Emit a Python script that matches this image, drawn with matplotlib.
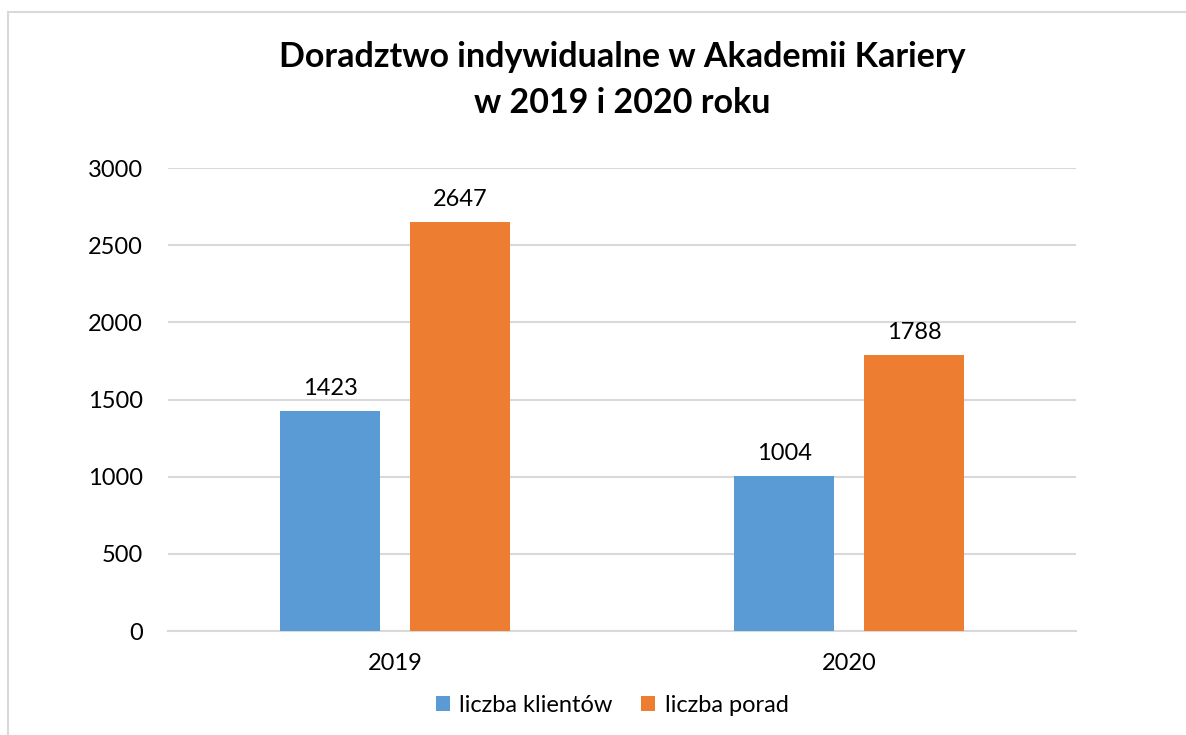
import matplotlib.pyplot as plt
import matplotlib.patches as mpatches
import numpy as np

plt.rcParams['font.family'] = ['Lato', 'DejaVu Sans']

# data
years = ["2019", "2020"]
clients = [1423, 1004]
advice = [2647, 1788]
series_names = ["liczba klientów", "liczba porad"]

BLUE = "#5B9BD5"
ORANGE = "#ED7D31"
GRID = "#D9D9D9"

fig = plt.figure(figsize=(11.86, 7.35), dpi=100)
ax = fig.add_axes([168 / 1186, 1 - 631 / 735, (1076 - 168) / 1186, (631 - 168) / 735])

x = np.arange(len(years))
w = 0.222
off = 0.143
b1 = ax.bar(x - off, clients, w, color=BLUE, label=series_names[0], zorder=3)
b2 = ax.bar(x + off, advice, w, color=ORANGE, label=series_names[1], zorder=3)

for bars in (b1, b2):
    for rect in bars:
        h = rect.get_height()
        ax.annotate(f"{int(h)}", (rect.get_x() + rect.get_width() / 2, h),
                    xytext=(0, 9), textcoords="offset points",
                    ha="center", va="bottom", fontsize=17)

ax.set_xlim(-0.5, 1.5)
ax.set_ylim(0, 3000)
ax.set_yticks(range(0, 3001, 500))
ax.set_xticks(x)
ax.set_xticklabels(years)
ax.tick_params(axis="both", length=0, labelsize=17)
ax.tick_params(axis="x", pad=16)
ax.tick_params(axis="y", pad=18)
ax.yaxis.grid(True, color=GRID, linewidth=1.5, zorder=0)
for s in ("top", "right", "left"):
    ax.spines[s].set_visible(False)
ax.spines["bottom"].set_color(GRID)
ax.spines["bottom"].set_linewidth(1.5)

fig.text(0.525, 1 - 57 / 735, "Doradztwo indywidualne w Akademii Kariery",
         ha="center", va="center", fontsize=24.5, fontweight="bold")
fig.text(0.525, 1 - 103 / 735, "w 2019 i 2020 roku",
         ha="center", va="center", fontsize=24.5, fontweight="bold")

fig.legend(handles=[b1, b2], loc="center", bbox_to_anchor=(612 / 1186, 1 - 705 / 735),
           ncol=2, frameon=False, fontsize=17, handlelength=0.6, handleheight=0.6,
           handletextpad=0.4, columnspacing=1.2)

# outer chart border (left and top visible)
fig.patches.append(mpatches.Rectangle((8 / 1186, -0.1), 1.2, 1 - 12 / 735 + 0.1,
                                      transform=fig.transFigure, fill=False,
                                      edgecolor=GRID, linewidth=1.5))

fig.savefig("out.png", dpi=100, facecolor="white")
